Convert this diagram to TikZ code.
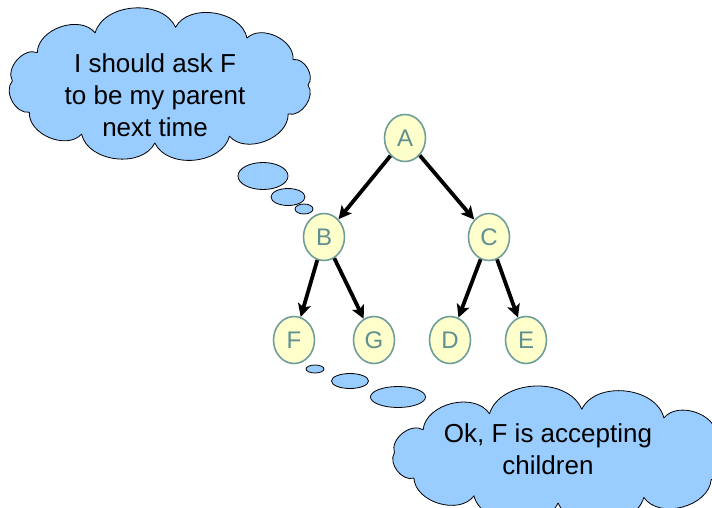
\documentclass[tikz,border=0pt]{standalone}
\usepackage{fontspec}
\setmainfont{Liberation Sans}
\usetikzlibrary{shapes.geometric,arrows.meta}

\definecolor{nodefill}{HTML}{FFFFCC}
\definecolor{nodeline}{HTML}{6F9E9A}
\definecolor{nodetext}{HTML}{5F8F8F}
\definecolor{bubblefill}{HTML}{99CCFF}

\begin{document}
\begin{tikzpicture}[x = 1pt, y = -1pt,
  treenode/.style = {ellipse, draw = nodeline, line width = 1.6pt, fill = nodefill,
    text = nodetext, minimum width = 41pt, minimum height = 47pt, inner sep = 0pt,
    font = \fontsize{24}{28}\selectfont},
  link/.style = {line width = 3.8pt, -{Stealth[length = 13pt, width = 13pt, inset = 3pt]}},
  thought/.style = {draw = black, line width = 0.8pt, fill = bubblefill, line join = round},
  puff/.style = {ellipse, draw = black, line width = 0.8pt, fill = bubblefill, inner sep = 0pt},
  saying/.style = {align = center, font = \fontsize{26}{32}\selectfont}]

\useasboundingbox (0,0) rectangle (712,508);
\clip (0,0) rectangle (712,508);

% thoughts of G
\draw[thought, shift = {(160,85)}] (0:148 and 58)
  \foreach \a in {30,62,92,122,152,184,214,244,276,306,334} { to[bend left = 70] (\a:148 and 58) }
  to[bend left = 70] (360:148 and 58) -- cycle;
\node[saying] (textG) at (155,95) {I should ask F\\to be my parent\\next time};
\node[puff, minimum width = 50pt, minimum height = 27pt] (g1) at (263,176) {};
\node[puff, minimum width = 34pt, minimum height = 17pt] (g2) at (288,197) {};
\node[puff, minimum width = 18pt, minimum height = 10pt] (g3) at (304,209) {};

% the tree
\node[treenode] (A) at (405,138) {A};
\node[treenode] (B) at (324,237) {B};
\node[treenode] (C) at (489,237) {C};
\node[treenode] (F) at (294,340) {F};
\node[treenode] (G) at (374,340) {G};
\node[treenode] (D) at (450,340) {D};
\node[treenode] (E) at (526,340) {E};

\draw[link] (A) -- (B);
\draw[link] (A) -- (C);
\draw[link] (B) -- (F);
\draw[link] (B) -- (G);
\draw[link] (C) -- (D);
\draw[link] (C) -- (E);

% thoughts of F
\node[puff, minimum width = 18pt, minimum height = 8pt] (f1) at (315,369) {};
\node[puff, minimum width = 37pt, minimum height = 15pt] (f2) at (350,381) {};
\node[puff, minimum width = 55pt, minimum height = 21pt] (f3) at (398,397) {};
\draw[thought, shift = {(564,456)}] (0:170 and 47)
  \foreach \a in {30,62,92,122,152,184,214,244,276,306,334} { to[bend left = 70] (\a:170 and 47) }
  to[bend left = 70] (360:170 and 47) -- cycle;
\node[saying] (textF) at (548,449) {Ok, F is accepting\\children};

\end{tikzpicture}
\end{document}
